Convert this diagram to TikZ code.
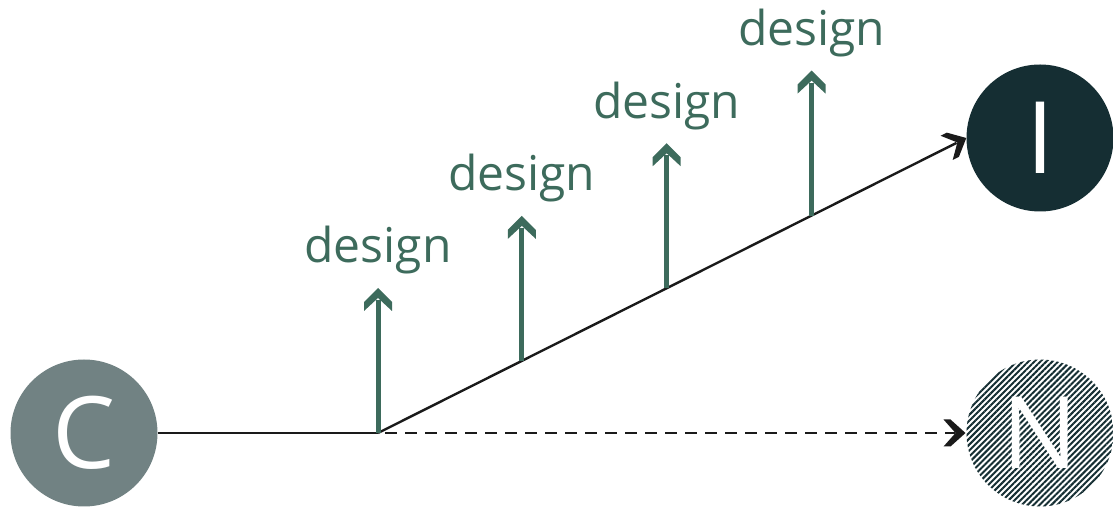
\documentclass[tikz,border=0pt]{standalone}
\usepackage{fontspec}
\setmainfont{Open Sans}
\usetikzlibrary{arrows.meta,patterns.meta,calc}
\definecolor{dgreen}{HTML}{3D6B5C}
\definecolor{cgray}{HTML}{718283}
\definecolor{idark}{HTML}{152E33}
\definecolor{ink}{HTML}{1A1A1A}
\pgfdeclarearrow{
  name=GChev,
  setup code={\pgfarrowssettipend{0pt}\pgfarrowssetbackend{-23pt}\pgfarrowssetlineend{-12pt}\pgfarrowssetvisualbackend{-12pt}},
  drawing code={\pgfsetdash{}{0pt}\pgfpathmoveto{\pgfpoint{0pt}{0pt}}\pgfpathlineto{\pgfpoint{-14pt}{14pt}}\pgfpathlineto{\pgfpoint{-23pt}{14pt}}\pgfpathlineto{\pgfpoint{-10pt}{0pt}}\pgfpathlineto{\pgfpoint{-23pt}{-14pt}}\pgfpathlineto{\pgfpoint{-14pt}{-14pt}}\pgfpathclose\pgfusepathqfill}
}
\pgfdeclarearrow{
  name=KChev,
  setup code={\pgfarrowssettipend{0pt}\pgfarrowssetbackend{-22pt}\pgfarrowssetlineend{-11pt}\pgfarrowssetvisualbackend{-11pt}},
  drawing code={\pgfsetdash{}{0pt}\pgfpathmoveto{\pgfpoint{0pt}{0pt}}\pgfpathlineto{\pgfpoint{-15pt}{13.5pt}}\pgfpathlineto{\pgfpoint{-22pt}{13.5pt}}\pgfpathlineto{\pgfpoint{-10pt}{0pt}}\pgfpathlineto{\pgfpoint{-22pt}{-13.5pt}}\pgfpathlineto{\pgfpoint{-15pt}{-13.5pt}}\pgfpathclose\pgfusepathqfill}
}
\tikzset{
  bignode/.style={circle,minimum size=147pt,inner sep=0pt,text=white,font=\fontsize{100}{100}\selectfont},
  flow/.style={draw=ink,line width=2.4pt,-KChev},
  lift/.style={draw=dgreen,line width=5pt,-GChev},
  lbl/.style={text=dgreen,anchor=base,inner sep=0pt,font=\fontsize{48}{48}\selectfont}
}
\begin{document}
\begin{tikzpicture}[x=1pt,y=1pt]
\useasboundingbox (0,0) rectangle (1113,511);
\node[bignode,fill=cgray] (C) at (84,78) {C};
\node[bignode,fill=idark] (I) at (1040,373) {I};
\node[bignode,pattern={Lines[angle=45,distance=4.2pt,line width=2pt]},pattern color=idark] (N) at (1040,78) {};
\node[text=white,font=\fontsize{100}{100}\selectfont] (Nt) at (N) {N};
\coordinate (J) at (378,78);
\draw[draw=ink,line width=2.4pt] (C) -- (J);
\draw[flow] (J) -- (I.west);
\draw[flow,dash pattern=on 12pt off 8pt] ($(J)+(7,0)$) coordinate (Jd) -- (N.west);
\foreach \t/\n in {0/a,0.2445/b,0.4907/c,0.737/d}{
  \coordinate (b\n) at ($(J)!\t!(I.west)$);
  \coordinate (t\n) at ($(b\n)+(0,145)$);
  \draw[lift] (b\n) -- (t\n);
  \node[lbl] (l\n) at ($(t\n)+(0,25)$) {design};
}
\end{tikzpicture}
\end{document}
